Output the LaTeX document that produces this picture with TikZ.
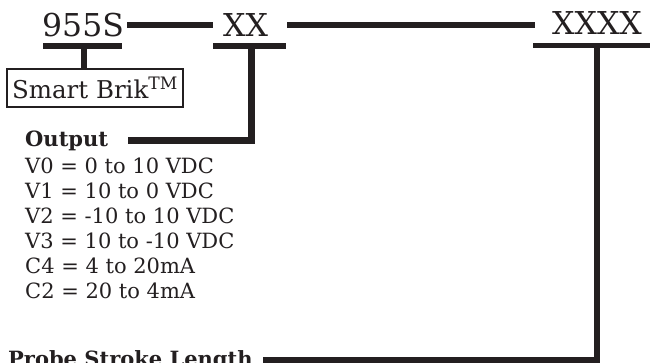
\documentclass[tikz,border=0pt]{standalone}
\usepackage{fontspec}
\setmainfont{DejaVu Serif}
\usepackage{tikz}
\definecolor{ink}{HTML}{231F20}

\begin{document}
\begin{tikzpicture}[x=1pt, y=-1pt, color=ink,
    code/.style={anchor=base west, inner sep=0pt, text height=22pt, text depth=0pt, font=\fontsize{31.5}{32}\selectfont},
    item/.style={anchor=base west, inner sep=0pt, font=\fontsize{21}{25}\selectfont},
    head/.style={anchor=base west, inner sep=0pt, font=\fontsize{21}{25}\selectfont\bfseries},
    bar/.style={line width=5.5pt},
    stem/.style={line width=6.5pt, line join=miter}]
    \useasboundingbox (0,0) rectangle (655,362);

    % model code parts
    \node[code] (base) at (42,36) {955S};
    \node[code] (out) at (223,36) {XX};
    \node[code] (len) at (552,34) {XXXX};

    \draw[bar] ([xshift=3pt]base.east) -- ([xshift=-10pt]out.west);
    \draw[bar] ([xshift=19pt]out.east) -- ([xshift=-17pt]out.east -| len.west);

    % bars under the parts
    \draw[bar] ([yshift=-10pt,xshift=1pt]base.south west) -- ([yshift=-10pt,xshift=-2pt]base.south east);
    \draw[bar] ([yshift=-10pt,xshift=-10pt]out.south west) -- ([yshift=-10pt,xshift=18pt]out.south east);
    \draw[bar] ([yshift=-11.5pt,xshift=-19pt]len.south west) -- ([yshift=-11.5pt,xshift=8pt]len.south east);

    \coordinate (t1) at (84,46);
    \coordinate (t2) at (251.5,46);
    \coordinate (t3) at (597,45.5);

    % labels
    \node[draw, line width=1.5pt, minimum width=176pt, minimum height=38pt, inner sep=0pt,
          font=\fontsize{24.5}{25}\selectfont] (brik) at (95,88) {Smart Brik\textsuperscript{TM}};
    \node[head] (outlbl) at (25,146) {Output};
    \node[item] (v0) at (25,173) {V0 = 0 to 10 VDC};
    \node[item] (v1) at (25,198) {V1 = 10 to 0 VDC};
    \node[item] (v2) at (25,223) {V2 = -10 to 10 VDC};
    \node[item] (v3) at (25,248) {V3 = 10 to -10 VDC};
    \node[item] (c4) at (25,273) {C4 = 4 to 20mA};
    \node[item] (c2) at (25,298) {C2 = 20 to 4mA};
    \node[head] (probe) at (8,366) {Probe Stroke Length};

    \draw[stem] (t1) -- (t1 |- brik.north);
    \draw[stem] (t2) |- ([xshift=20pt]outlbl.east);
    \draw[stem] (t3) |- ([xshift=10pt]probe.east);
\end{tikzpicture}
\end{document}
